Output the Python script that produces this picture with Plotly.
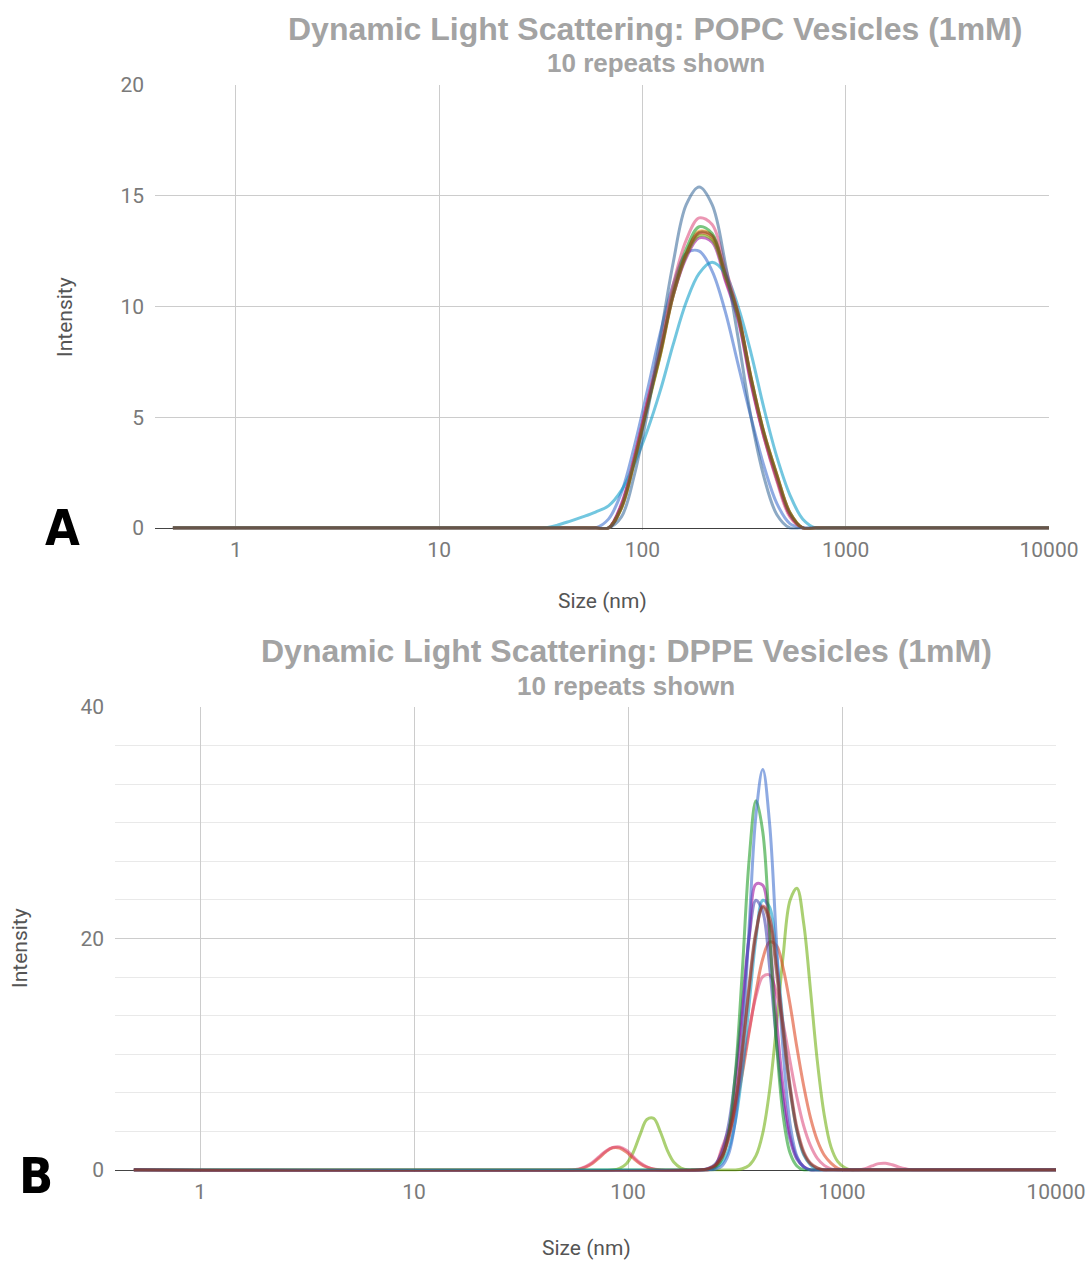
import math
import plotly.graph_objects as go

# ---------------- data: POPC (top panel) ----------------
TOP_SIZES = [0.49, 28.21, 32.67, 37.84, 43.82, 50.75, 58.77, 68.06, 78.82, 91.28, 105.7, 122.4,
             141.8, 164.2, 190.1, 220.2, 255.0, 295.3, 342.0, 396.1, 458.7, 531.2, 615.1, 712.4,
             825.0, 10000]

POPC_BLUE     = [0, 0, 0, 0, 0, 0, 0, 0.4, 1.6, 3.7, 6.2, 8.8, 11.0, 12.4, 12.5, 11.6, 9.8, 7.4, 5.0, 2.8, 1.1, 0.2, 0, 0, 0, 0]
POPC_RED      = [0, 0, 0, 0, 0, 0, 0, 0, 1.0, 3.1, 5.5, 7.8, 10.5, 12.3, 13.3, 13.1, 11.3, 9.5, 6.6, 4.2, 2.3, 0.6, 0, 0, 0, 0]
POPC_ORANGE   = [0, 0, 0, 0, 0, 0, 0, 0, 0.9, 3.0, 5.5, 7.9, 10.6, 12.4, 13.4, 13.2, 11.5, 9.7, 6.8, 4.3, 2.4, 0.7, 0, 0, 0, 0]
POPC_GREEN    = [0, 0, 0, 0, 0, 0, 0, 0, 1.0, 3.1, 5.6, 8.0, 10.8, 12.6, 13.6, 13.3, 11.5, 9.6, 6.7, 4.2, 2.2, 0.6, 0, 0, 0, 0]
POPC_PURPLE   = [0, 0, 0, 0, 0, 0, 0, 0, 1.1, 3.2, 5.7, 8.0, 10.5, 12.2, 13.1, 12.9, 11.2, 9.4, 6.5, 4.1, 2.2, 0.6, 0, 0, 0, 0]
POPC_CYAN     = [0, 0, 0, 0.12, 0.3, 0.5, 0.72, 1.0, 1.7, 2.9, 4.4, 6.2, 8.3, 10.2, 11.5, 12.0, 11.5, 10.0, 7.9, 5.4, 3.2, 1.5, 0.4, 0, 0, 0]
POPC_PINK     = [0, 0, 0, 0, 0, 0, 0, 0, 1.0, 3.2, 5.7, 8.2, 11.0, 13.0, 14.0, 13.7, 11.8, 9.7, 6.7, 4.1, 2.1, 0.5, 0, 0, 0, 0]
POPC_LGREEN   = [0, 0, 0, 0, 0, 0, 0, 0, 0.9, 3.0, 5.4, 7.8, 10.5, 12.3, 13.2, 13.0, 11.4, 9.6, 6.8, 4.3, 2.4, 0.7, 0, 0, 0, 0]
POPC_BROWN    = [0, 0, 0, 0, 0, 0, 0, 0, 0.9, 3.0, 5.5, 7.9, 10.6, 12.4, 13.35, 13.2, 11.5, 9.7, 6.8, 4.3, 2.4, 0.7, 0, 0, 0, 0]
POPC_GRAYBLUE = [0, 0, 0, 0, 0, 0, 0, 0, 0.5, 2.4, 5.2, 8.6, 12.0, 14.6, 15.4, 14.6, 12.0, 8.6, 5.0, 2.3, 0.6, 0, 0, 0, 0, 0]

# ---------------- data: DPPE (bottom panel) ----------------
DPPE_BLUE_X = [0.49, 236.9, 255.0, 274.4, 295.3, 317.8, 342.0, 368.0, 396.1, 426.2, 458.7, 493.6, 531.2, 571.6, 615.1, 662.0, 712.4, 766.6, 10000]
DPPE_BLUE_Y = [0, 0, 0.05, 0.33, 1.4, 4.4, 11.0, 21.0, 30.7, 34.6, 29.9, 19.8, 10.1, 4.0, 1.2, 0.27, 0, 0, 0]

DPPE_GREEN_X = [0.49, 220.2, 236.9, 255.0, 274.4, 295.3, 317.8, 342.0, 368.0, 396.1, 426.2, 458.7, 493.6, 531.2, 571.6, 615.1, 662.0, 712.4, 10000]
DPPE_GREEN_Y = [0, 0, 0.04, 0.21, 0.95, 3.2, 8.5, 17.2, 26.8, 31.9, 29.2, 20.5, 11.1, 4.6, 1.46, 0.35, 0, 0, 0]

DPPE_PURPLE_X = [0.49, 220.2, 236.9, 255.0, 274.4, 295.3, 317.8, 342.0, 368.0, 396.1, 426.2, 458.7, 493.6, 531.2, 571.6, 615.1, 662.0, 712.4, 766.6, 10000]
DPPE_PURPLE_Y = [0, 0, 0.08, 0.33, 1.13, 3.2, 7.2, 13.4, 20.2, 24.7, 24.6, 19.9, 13.1, 7.0, 3.0, 1.08, 0.3, 0, 0, 0]

DPPE_TEAL_X = [0.49, 220.2, 236.9, 255.0, 274.4, 295.3, 317.8, 342.0, 368.0, 396.1, 426.2, 458.7, 493.6, 531.2, 571.6, 615.1, 662.0, 712.4, 766.6, 825.0, 10000]
DPPE_TEAL_Y = [0, 0, 0.04, 0.18, 0.61, 1.77, 4.26, 8.5, 14.3, 20.0, 23.3, 22.7, 18.5, 12.5, 7.1, 3.4, 1.3, 0.44, 0, 0, 0]

DPPE_INDIGO_X = [0.49, 220.2, 236.9, 255.0, 274.4, 295.3, 317.8, 342.0, 368.0, 396.1, 426.2, 458.7, 493.6, 531.2, 571.6, 615.1, 662.0, 712.4, 766.6, 10000]
DPPE_INDIGO_Y = [0, 0, 0.13, 0.5, 1.56, 3.97, 8.3, 14.3, 20.1, 23.3, 22.3, 17.5, 11.2, 5.9, 2.6, 0.93, 0.27, 0, 0, 0]

DPPE_BROWN_X = [0.49, 220.2, 236.9, 255.0, 274.4, 295.3, 317.8, 342.0, 368.0, 396.1, 426.2, 458.7, 493.6, 531.2, 571.6, 615.1, 662.0, 712.4, 766.6, 825.0, 887.8, 10000]
DPPE_BROWN_Y = [0, 0, 0.12, 0.42, 1.18, 2.87, 5.97, 10.6, 16.0, 20.65, 22.7, 21.4, 17.1, 11.7, 6.85, 3.4, 1.44, 0.52, 0.16, 0, 0, 0]

DPPE_RED_X = [0.49, 220.2, 236.9, 255.0, 274.4, 295.3, 317.8, 342.0, 368.0, 396.1, 426.2, 458.7, 493.6, 531.2, 571.6, 615.1, 662.0, 712.4, 766.6, 825.0, 887.8, 10000]
DPPE_RED_Y = [0, 0, 0.1, 0.38, 1.1, 2.7, 5.7, 10.2, 15.6, 20.4, 22.8, 21.8, 17.7, 12.3, 7.3, 3.7, 1.6, 0.6, 0.18, 0, 0, 0]

DPPE_SALMON_X = [0.49, 50.75, 54.61, 58.77, 63.24, 68.06, 73.24, 78.82, 84.82, 91.28, 98.23, 105.7, 113.8, 122.4, 131.7, 141.8,
                 220.2, 236.9, 255.0, 274.4, 295.3, 317.8, 342.0, 368.0, 396.1, 426.2, 458.7, 493.6, 531.2, 571.6, 615.1,
                 662.0, 712.4, 766.6, 825.0, 887.8, 955.4, 1028, 1106, 10000]
DPPE_SALMON_Y = [0, 0, 0, 0.05, 0.24, 0.56, 1.04, 1.58, 1.92, 1.9, 1.55, 1.02, 0.55, 0.24, 0.07, 0,
                 0, 0, 0.3, 1.66, 3.13, 5.35, 8.35, 11.9, 15.4, 18.25, 19.7, 19.4, 17.4, 14.3, 10.6,
                 7.25, 4.5, 2.55, 1.3, 0.6, 0.15, 0, 0, 0]

DPPE_PINK_X = [0.49, 50.75, 54.61, 58.77, 63.24, 68.06, 73.24, 78.82, 84.82, 91.28, 98.23, 105.7, 113.8, 122.4, 131.7, 141.8,
               220.2, 236.9, 255.0, 274.4, 295.3, 317.8, 342.0, 368.0, 396.1, 426.2, 458.7, 493.6, 531.2, 571.6, 615.1,
               662.0, 712.4, 766.6, 825.0, 887.8, 955.4, 1028, 1106,
               1190, 1281, 1378, 1484, 1597, 1718, 1849, 1990, 2141, 2305, 10000]
DPPE_PINK_Y = [0, 0, 0.02, 0.1, 0.3, 0.65, 1.15, 1.65, 1.95, 2.0, 1.7, 1.15, 0.62, 0.28, 0.09, 0,
               0, 0, 0.3, 1.9, 3.5, 5.9, 8.9, 12.1, 15.0, 16.7, 16.85, 15.3, 12.6, 9.4, 6.3,
               3.8, 2.1, 1.0, 0.4, 0.1, 0, 0, 0,
               0, 0.12, 0.35, 0.55, 0.58, 0.45, 0.25, 0.1, 0, 0, 0]

DPPE_LGREEN_X = [0.49, 84.82, 91.28, 98.23, 105.7, 113.8, 122.4, 131.7, 141.8, 152.6, 164.2, 176.7, 190.1, 204.6,
                 295.3, 317.8, 342.0, 368.0, 396.1, 426.2, 458.7, 493.6, 531.2, 571.6, 615.1, 662.0, 712.4, 766.6,
                 825.0, 887.8, 955.4, 1028, 1106, 1190, 10000]
DPPE_LGREEN_Y = [0, 0, 0.14, 0.54, 1.52, 3.05, 4.36, 4.46, 3.26, 1.7, 0.64, 0.17, 0, 0,
                 0, 0, 0.11, 0.4, 1.24, 3.2, 6.9, 12.4, 18.6, 23.3, 24.35, 21.3, 15.5, 9.4,
                 4.8, 2.0, 0.72, 0.21, 0, 0, 0]

X_TICKS = [1, 10, 100, 1000, 10000]
X_TICK_TEXT = ["1", "10", "100", "1000", "10000"]
TOP_Y_TICKS = [0, 5, 10, 15, 20]
BOT_Y_TICKS = [0, 20, 40]

# ---------------- styling ----------------
W, H = 1091, 1262
OPAC = 0.55
LW = 3
TICK_FONT = dict(family="Roboto", size=21, color="#7a7a7a")
AX_TITLE_FONT = dict(family="Roboto", size=21, color="#555555")
TITLE_COLOR = "#a3a3a3"

top_series = [
    (POPC_BLUE, "#3366cc"), (POPC_RED, "#dc3912"), (POPC_ORANGE, "#ff9900"), (POPC_GREEN, "#109618"),
    (POPC_PURPLE, "#990099"), (POPC_CYAN, "#0099c6"), (POPC_PINK, "#dd4477"), (POPC_LGREEN, "#66aa00"),
    (POPC_GRAYBLUE, "#316395"), (POPC_BROWN, "#7b3f2e"),
]
bot_series = [
    (DPPE_LGREEN_X, DPPE_LGREEN_Y, "#66aa00"),
    (DPPE_SALMON_X, DPPE_SALMON_Y, "#dc3912"),
    (DPPE_PINK_X, DPPE_PINK_Y, "#dd4477"),
    (DPPE_TEAL_X, DPPE_TEAL_Y, "#0099c6"),
    (DPPE_INDIGO_X, DPPE_INDIGO_Y, "#3b3eac"),
    (DPPE_PURPLE_X, DPPE_PURPLE_Y, "#990099"),
    (DPPE_GREEN_X, DPPE_GREEN_Y, "#109618"),
    (DPPE_BLUE_X, DPPE_BLUE_Y, "#3366cc"),
    (DPPE_RED_X, DPPE_RED_Y, "#b82e2e"),
    (DPPE_BROWN_X, DPPE_BROWN_Y, "#7b3f2e"),
]

fig = go.Figure()
for vals, col in top_series:
    fig.add_trace(go.Scatter(x=TOP_SIZES, y=vals, mode="lines", xaxis="x", yaxis="y",
                             line=dict(color=col, width=LW, shape="spline", smoothing=1),
                             opacity=OPAC, showlegend=False, hoverinfo="skip"))
for xs, ys, col in bot_series:
    fig.add_trace(go.Scatter(x=xs, y=ys, mode="lines", xaxis="x2", yaxis="y2",
                             line=dict(color=col, width=LW, shape="spline", smoothing=1),
                             opacity=OPAC, showlegend=False, hoverinfo="skip"))

def px_x(p):
    return p / W

def px_y(p):
    return 1 - p / H

# plot-area pixel geometry
TOP_L, TOP_R, TOP_T, TOP_B = 155, 1049, 85, 528
BOT_L, BOT_R, BOT_T, BOT_B = 115, 1056, 707, 1170
TOP_YMIN = -0.07
BOT_YMIN = -0.13
top_b_ext = TOP_B + (-TOP_YMIN) * (TOP_B - TOP_T) / 20
bot_b_ext = BOT_B + (-BOT_YMIN) * (BOT_B - BOT_T) / 40

xcommon = dict(type="log", range=[math.log10(0.4), 4], tickmode="array", tickvals=X_TICKS,
               ticktext=X_TICK_TEXT, showgrid=True, gridcolor="#cccccc", gridwidth=1,
               zeroline=False, showline=False, ticks="", tickfont=TICK_FONT,
               ticklabelstandoff=5, automargin=False, fixedrange=True)

fig.update_layout(
    width=W, height=H, margin=dict(l=0, r=0, t=0, b=0, autoexpand=False),
    paper_bgcolor="white", plot_bgcolor="white",
    xaxis=dict(domain=[px_x(TOP_L), px_x(TOP_R)], anchor="y", **xcommon),
    yaxis=dict(domain=[px_y(top_b_ext), px_y(TOP_T)], anchor="x", range=[TOP_YMIN, 20],
               tickmode="array", tickvals=TOP_Y_TICKS, showgrid=True, gridcolor="#cccccc",
               zeroline=True, zerolinecolor="#444444", zerolinewidth=1, showline=False,
               ticks="", tickfont=TICK_FONT, ticklabelstandoff=10, automargin=False),
    xaxis2=dict(domain=[px_x(BOT_L), px_x(BOT_R)], anchor="y2", **xcommon),
    yaxis2=dict(domain=[px_y(bot_b_ext), px_y(BOT_T)], anchor="x2", range=[BOT_YMIN, 40],
                tickmode="linear", tick0=0, dtick=20, showgrid=True, gridcolor="#cccccc",
                minor=dict(tickmode="linear", tick0=0, dtick=20 / 6, showgrid=True,
                           gridcolor="#e9e9e9", gridwidth=1),
                zeroline=True, zerolinecolor="#444444", zerolinewidth=1, showline=False,
                ticks="", tickfont=TICK_FONT, ticklabelstandoff=10, automargin=False),
)

ann = []
def text(x, y, s, font, angle=0):
    ann.append(dict(x=px_x(x), y=px_y(y), xref="paper", yref="paper", text=s, showarrow=False,
                    xanchor="center", yanchor="middle", font=font, textangle=angle))

title_font = dict(family="Liberation Sans", size=32, color=TITLE_COLOR, weight="bold")
sub_font = dict(family="Liberation Sans", size=26, color=TITLE_COLOR, weight="bold")
label_font = dict(family="Liberation Sans Narrow, DejaVu Sans Condensed, Arial", size=50,
                  color="black", weight="bold")

text(655, 29, "Dynamic Light Scattering: POPC Vesicles (1mM)", title_font)
text(656, 63, "10 repeats shown", sub_font)
text(602, 601, "Size (nm)", AX_TITLE_FONT)
text(65, 317, "Intensity", AX_TITLE_FONT, -90)
text(62, 528, "A", label_font)

text(626, 651, "Dynamic Light Scattering: DPPE Vesicles (1mM)", title_font)
text(626, 686, "10 repeats shown", sub_font)
text(586, 1248, "Size (nm)", AX_TITLE_FONT)
text(20, 948, "Intensity", AX_TITLE_FONT, -90)
text(36, 1176, "B", label_font)

fig.update_layout(annotations=ann)
fig.write_html("out.html")
